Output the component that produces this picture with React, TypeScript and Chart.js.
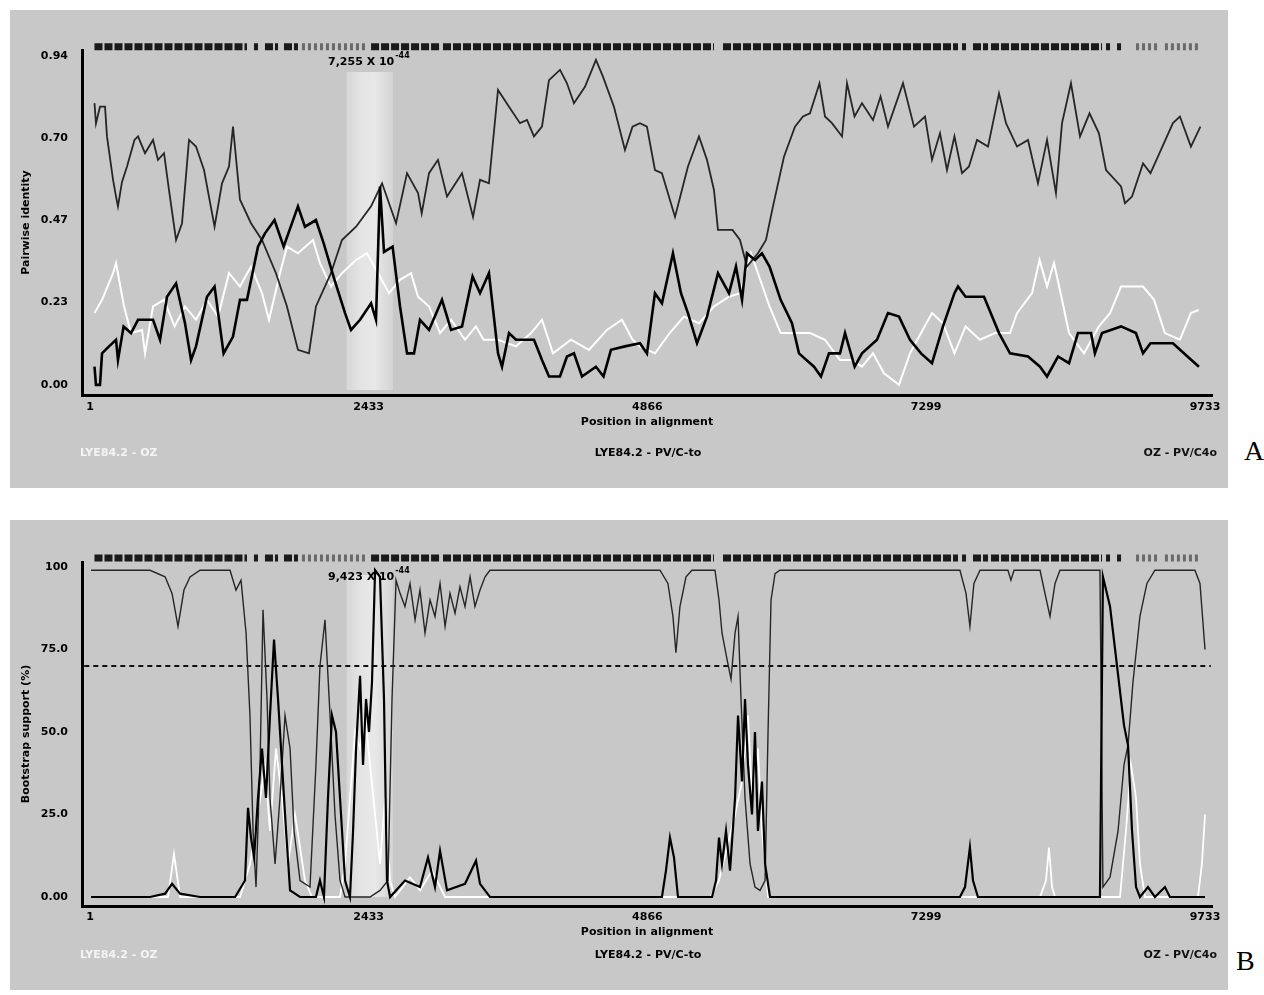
import React, { useEffect, useRef } from "react";
import { Chart, registerables } from "chart.js";

Chart.register(...registerables);

const FONT = "'DejaVu Sans', Verdana, sans-serif";

// ---------- shared axis data ----------
const xTicks = [1, 2433, 4866, 7299, 9733];
const xMin = -69;
const xMax = 9794;

const aYTicks = [0, 0.235, 0.47, 0.705, 0.94];
const aYTickLabels = ["0.00", "0.23", "0.47", "0.70", "0.94"];
const bYTicks = [0, 25, 50, 75, 100];
const bYTickLabels = ["0.00", "25.0", "50.0", "75.0", "100"];

// informative-site strip (alignment positions)
const sitesStart = [40, 1432, 1528, 1694, 1851, 2454, 3082, 5526, 7612, 7708, 7865, 8869, 8965, 9131, 9383];
const sitesEnd = [1371, 1467, 1642, 1816, 2419, 3056, 5447, 7577, 7647, 7839, 8834, 8904, 9000, 9322, 9680];
const sitesFaint = [0, 0, 0, 0, 1, 0, 0, 0, 0, 0, 0, 0, 0, 1, 1];

// highlighted breakpoint window
const bandStart = 2240;
const bandEnd = 2645;
const bootstrapThreshold = 70;

// ---------- Panel A: pairwise identity ----------
const aOzPos = [40,53,88,132,149,202,228,245,280,324,389,420,481,551,594,647,690,752,804,865,926,996,1088,1153,1214,1249,1310,1406,1502,1624,1720,1816,1912,1973,2104,2200,2323,2454,2550,2672,2768,2864,2896,2960,3038,3117,3248,3344,3405,3483,3562,3658,3754,3815,3876,3946,4007,4103,4164,4225,4321,4417,4478,4574,4670,4736,4801,4862,4932,4993,5107,5220,5316,5386,5447,5482,5609,5674,5735,5831,5901,5962,6058,6154,6224,6285,6368,6416,6477,6565,6608,6674,6739,6835,6901,6966,7097,7193,7289,7350,7420,7481,7546,7612,7673,7743,7839,7935,7996,8092,8188,8275,8354,8432,8485,8563,8642,8725,8807,8869,9000,9034,9096,9192,9257,9322,9453,9514,9610,9693];
const aOzVal = [0.805,0.747,0.795,0.795,0.71,0.586,0.538,0.51,0.58,0.624,0.70,0.71,0.662,0.70,0.643,0.662,0.557,0.414,0.462,0.70,0.681,0.614,0.452,0.576,0.624,0.738,0.529,0.462,0.414,0.319,0.224,0.10,0.09,0.224,0.319,0.414,0.452,0.51,0.576,0.462,0.605,0.548,0.49,0.605,0.643,0.538,0.605,0.48,0.586,0.576,0.843,0.795,0.748,0.757,0.71,0.738,0.871,0.90,0.862,0.805,0.852,0.929,0.881,0.795,0.671,0.738,0.748,0.738,0.614,0.605,0.48,0.624,0.71,0.643,0.557,0.443,0.443,0.414,0.338,0.376,0.414,0.51,0.652,0.738,0.767,0.776,0.862,0.767,0.748,0.71,0.862,0.767,0.805,0.757,0.824,0.738,0.862,0.738,0.767,0.643,0.719,0.614,0.71,0.605,0.624,0.70,0.681,0.833,0.748,0.681,0.70,0.576,0.70,0.548,0.748,0.862,0.71,0.776,0.719,0.614,0.567,0.519,0.538,0.633,0.605,0.652,0.748,0.767,0.681,0.738];

const aLyePvPos = [40,53,88,106,167,228,245,294,359,420,551,612,673,752,830,883,926,1022,1088,1167,1249,1310,1371,1467,1528,1611,1691,1816,1877,1973,2040,2135,2227,2279,2358,2454,2497,2532,2567,2642,2707,2768,2829,2881,2960,3073,3152,3248,3340,3405,3483,3562,3597,3658,3719,3876,3946,4007,4103,4164,4225,4295,4417,4483,4548,4670,4801,4862,4932,4993,5089,5159,5220,5299,5386,5482,5578,5639,5692,5735,5805,5866,5932,6029,6128,6189,6320,6381,6451,6547,6591,6675,6739,6870,6966,7062,7158,7254,7350,7446,7546,7577,7643,7804,7935,8031,8188,8293,8354,8450,8546,8624,8738,8772,8834,9000,9130,9192,9257,9453,9580,9680];
const aLyePvVal = [0.052,0.0,0.0,0.09,0.11,0.129,0.071,0.167,0.148,0.186,0.186,0.129,0.252,0.29,0.176,0.071,0.11,0.252,0.281,0.09,0.138,0.243,0.243,0.395,0.433,0.471,0.395,0.51,0.452,0.471,0.405,0.30,0.205,0.157,0.186,0.233,0.186,0.567,0.38,0.395,0.224,0.09,0.09,0.186,0.157,0.243,0.157,0.167,0.31,0.262,0.319,0.09,0.052,0.148,0.129,0.129,0.071,0.024,0.024,0.081,0.09,0.024,0.052,0.024,0.10,0.11,0.119,0.09,0.262,0.233,0.376,0.262,0.205,0.119,0.195,0.319,0.262,0.338,0.243,0.376,0.357,0.376,0.338,0.243,0.176,0.09,0.052,0.024,0.09,0.09,0.148,0.052,0.09,0.129,0.205,0.195,0.129,0.09,0.062,0.167,0.262,0.281,0.252,0.252,0.148,0.09,0.081,0.052,0.024,0.081,0.062,0.148,0.148,0.09,0.148,0.167,0.148,0.09,0.119,0.119,0.081,0.052];

const aLyeOzPos = [40,106,202,228,298,359,455,481,551,647,739,830,926,1022,1118,1214,1310,1406,1502,1563,1659,1720,1816,1947,2008,2104,2200,2323,2419,2515,2611,2707,2803,2864,2960,3056,3152,3274,3370,3436,3562,3719,3850,3946,4042,4199,4356,4513,4644,4736,4801,4932,5060,5185,5316,5447,5578,5674,5770,5831,5932,6029,6154,6285,6416,6547,6643,6739,6835,6931,7062,7158,7254,7350,7446,7546,7643,7769,7900,8031,8092,8223,8289,8354,8415,8485,8546,8677,8807,8904,9000,9192,9288,9383,9514,9610,9677];
const aLyeOzVal = [0.205,0.243,0.319,0.348,0.224,0.148,0.157,0.09,0.224,0.243,0.167,0.224,0.186,0.243,0.195,0.319,0.281,0.338,0.262,0.186,0.319,0.395,0.376,0.414,0.348,0.281,0.319,0.357,0.376,0.319,0.262,0.30,0.319,0.252,0.224,0.148,0.186,0.129,0.167,0.129,0.129,0.11,0.148,0.186,0.09,0.129,0.10,0.157,0.186,0.129,0.11,0.09,0.148,0.195,0.176,0.224,0.252,0.262,0.376,0.319,0.224,0.148,0.148,0.148,0.129,0.071,0.071,0.052,0.09,0.033,0.0,0.09,0.148,0.205,0.176,0.09,0.167,0.129,0.148,0.148,0.205,0.262,0.357,0.281,0.348,0.243,0.148,0.09,0.167,0.205,0.281,0.281,0.243,0.148,0.129,0.205,0.214];

// ---------- Panel B: bootstrap support ----------
const bOzPos = [10,525,656,717,769,821,874,961,1223,1275,1319,1363,1397,1424,1450,1485,1511,1546,1572,1616,1659,1703,1747,1782,1834,1921,1973,2008,2052,2096,2139,2183,2227,2445,2532,2602,2637,2672,2707,2750,2794,2838,2881,2925,2969,3012,3056,3100,3143,3187,3230,3274,3318,3361,3405,3449,3492,4976,5045,5089,5115,5150,5203,5255,5456,5491,5517,5561,5596,5631,5657,5683,5718,5762,5805,5849,5893,5919,5945,5980,6023,7594,7647,7681,7716,7769,8013,8039,8066,8293,8336,8380,8424,8467,8816,8842,8904,8974,9026,9061,9104,9165,9226,9296,9645,9689,9733];
const bOzVal = [99,99,97,92,82,93,97,99,99,93,96,80,55,20,3,40,87,60,30,10,30,55,45,20,5,3,40,70,84,55,25,5,0,0,2,5,60,96,92,88,95,84,93,80,90,85,95,82,92,86,94,88,97,88,93,97,99,99,95,85,74,88,97,99,99,90,80,72,66,80,85,60,30,10,3,2,5,50,90,98,99,99,92,82,95,99,99,96,99,99,92,85,95,99,99,3,6,20,40,46,65,85,95,99,99,95,75];

const bLyePvPos = [10,525,656,717,787,961,1267,1354,1380,1406,1433,1467,1502,1537,1572,1607,1642,1677,1712,1747,1834,1973,2008,2043,2078,2113,2148,2183,2227,2270,2297,2323,2358,2384,2410,2436,2462,2489,2532,2567,2593,2620,2750,2881,2951,3012,3056,3117,3274,3370,3405,3492,4993,5028,5063,5098,5133,5430,5465,5491,5517,5552,5587,5631,5657,5692,5718,5744,5779,5805,5831,5866,5893,5936,7594,7638,7681,7708,7751,8816,8842,8904,8965,9026,9061,9096,9131,9165,9235,9296,9383,9427,9733];
const bLyePvVal = [0,0,1,4,1,0,0,5,27,18,12,30,45,30,55,78,60,40,20,2,0,0,5,0,30,55,50,30,5,0,20,45,67,40,60,50,65,99,97,60,5,0,5,3,12,3,14,2,4,11,4,0,0,8,18,12,0,0,5,18,10,20,8,30,55,35,60,40,25,50,20,35,10,0,0,3,15,5,0,0,97,88,70,52,46,20,3,0,3,0,3,0,0];

const bLyeOzPos = [10,682,734,787,1311,1397,1467,1528,1572,1624,1677,1729,1790,1834,1877,1938,2183,2227,2270,2314,2358,2402,2445,2489,2532,2576,2620,2663,2794,2881,2986,3100,5414,5491,5561,5631,5692,5744,5779,5831,5866,5919,8293,8345,8371,8398,8424,8991,9043,9087,9131,9165,9209,9671,9706,9733];
const bLyeOzVal = [0,0,13,0,0,10,25,40,20,45,30,10,25,15,5,0,0,10,30,50,45,55,40,25,10,30,5,0,6,2,8,0,0,5,15,25,35,55,30,45,20,0,0,5,15,3,0,0,20,40,30,10,0,0,10,25];

// ---------- helpers ----------
const PANEL_W = 1218;

function pts(pos: number[], val: number[]) {
  const n = Math.min(pos.length, val.length);
  const out: { x: number; y: number }[] = [];
  for (let i = 0; i < n; i++) out.push({ x: pos[i], y: val[i] });
  return out;
}

function strip(yv: number, faint: number) {
  const d: any[] = [];
  sitesStart.forEach((s, i) => {
    if (sitesFaint[i] !== faint) return;
    d.push({ x: s, y: yv }, { x: sitesEnd[i], y: yv }, { x: sitesEnd[i], y: null });
  });
  return d;
}

function lineDs(data: any[], color: string, width: number, extra: any = {}) {
  return {
    data,
    borderColor: color,
    borderWidth: width,
    pointRadius: 0,
    tension: 0,
    fill: false,
    spanGaps: false,
    ...extra,
  };
}

type Spec = {
  height: number;
  padTop: number;
  padBottom: number;
  xHeight: number;
  xTickPad: number;
  yMin: number;
  yMax: number;
  yTicks: number[];
  yLabels: string[];
  yTitle: string;
  stripY: number;
  bandTop: number;
  bandBottom: number;
  series: any[];
  threshold?: number;
};

function buildConfig(p: Spec) {
  const bandPlugin = {
    id: "bandShade",
    beforeDatasetsDraw(chart: any) {
      const { ctx, scales } = chart;
      const x = scales.x;
      const y = scales.y;
      const l = x.getPixelForValue(bandStart);
      const r = x.getPixelForValue(bandEnd);
      const t = y.getPixelForValue(p.bandTop);
      const b = y.getPixelForValue(p.bandBottom);
      const g = ctx.createLinearGradient(l, 0, r, 0);
      g.addColorStop(0, "#d6d6d6");
      g.addColorStop(0.3, "#e4e4e4");
      g.addColorStop(0.6, "#e8e8e8");
      g.addColorStop(1, "#d4d4d4");
      ctx.save();
      ctx.fillStyle = g;
      ctx.fillRect(l, t, r - l, b - t);
      ctx.restore();
    },
  };

  const datasets: any[] = [...p.series];
  if (p.threshold !== undefined) {
    datasets.push(
      lineDs(
        [
          { x: xMin + 20, y: p.threshold },
          { x: xMax - 10, y: p.threshold },
        ],
        "#111",
        2,
        { borderDash: [5, 4] }
      )
    );
  }
  datasets.push(lineDs(strip(p.stripY, 0), "#1a1a1a", 7, { borderDash: [8, 2], clip: false, borderCapStyle: "butt" }));
  datasets.push(lineDs(strip(p.stripY, 1), "#6a6a6a", 7, { borderDash: [3, 3], clip: false, borderCapStyle: "butt" }));

  return {
    type: "line",
    data: { datasets },
    options: {
      animation: false,
      responsive: false,
      maintainAspectRatio: false,
      events: [],
      layout: { padding: { left: 10, right: 16, top: p.padTop, bottom: p.padBottom } },
      plugins: { legend: { display: false }, tooltip: { enabled: false } },
      scales: {
        x: {
          type: "linear",
          min: xMin,
          max: xMax,
          afterBuildTicks: (s: any) => {
            s.ticks = xTicks.map((v) => ({ value: v }));
          },
          afterFit: (s: any) => {
            s.height = p.xHeight;
          },
          ticks: {
            autoSkip: false,
            maxRotation: 0,
            padding: p.xTickPad,
            color: "#000",
            font: { family: FONT, size: 11, weight: "bold" },
            callback: (v: any) => String(v),
          },
          grid: { display: false, drawTicks: false },
          border: { display: true, color: "#000", width: 3 },
          title: {
            display: true,
            text: "Position in alignment",
            color: "#000",
            font: { family: FONT, size: 11, weight: "bold" },
            padding: { top: 0, bottom: 0 },
          },
        },
        y: {
          type: "linear",
          min: p.yMin,
          max: p.yMax,
          afterBuildTicks: (s: any) => {
            s.ticks = p.yTicks.map((v) => ({ value: v }));
          },
          afterFit: (s: any) => {
            s.width = 62;
          },
          ticks: {
            autoSkip: false,
            padding: 14,
            color: "#000",
            font: { family: FONT, size: 11, weight: "bold" },
            callback: (_v: any, i: number) => p.yLabels[i],
          },
          grid: { display: false, drawTicks: false },
          border: { display: true, color: "#000", width: 3 },
          title: {
            display: true,
            text: p.yTitle,
            color: "#000",
            font: { family: FONT, size: 11, weight: "bold" },
            padding: { top: 0, bottom: 0 },
          },
        },
      },
    },
    plugins: [bandPlugin],
  };
}

const specA: Spec = {
  height: 478,
  padTop: 40,
  padBottom: 59,
  xHeight: 34,
  xTickPad: 6,
  yMin: -0.029,
  yMax: 0.957,
  yTicks: aYTicks,
  yLabels: aYTickLabels,
  yTitle: "Pairwise identity",
  stripY: 0.966,
  bandTop: 0.894,
  bandBottom: -0.015,
  series: [
    lineDs(pts(aLyePvPos, aLyePvVal), "#000", 2.6),
    lineDs(pts(aOzPos, aOzVal), "#262626", 1.8),
    lineDs(pts(aLyeOzPos, aLyeOzVal), "#ffffff", 2),
  ],
};

const specB: Spec = {
  height: 470,
  padTop: 42,
  padBottom: 51,
  xHeight: 33,
  xTickPad: 5,
  yMin: -2.73,
  yMax: 101.5,
  yTicks: bYTicks,
  yLabels: bYTickLabels,
  yTitle: "Bootstrap support (%)",
  stripY: 102.7,
  bandTop: 97.6,
  bandBottom: 0,
  threshold: bootstrapThreshold,
  series: [
    lineDs(pts(bLyePvPos, bLyePvVal), "#000", 2.2),
    lineDs(pts(bOzPos, bOzVal), "#262626", 1.4),
    lineDs(pts(bLyeOzPos, bLyeOzVal), "#ffffff", 1.8),
  ],
};

function ChartCanvas({ spec }: { spec: Spec }) {
  const ref = useRef<HTMLCanvasElement>(null);
  useEffect(() => {
    const chart = new Chart(ref.current as HTMLCanvasElement, buildConfig(spec) as any);
    return () => chart.destroy();
  }, []);
  return (
    <canvas
      ref={ref}
      width={PANEL_W}
      height={spec.height}
      style={{ position: "absolute", left: 0, top: 0, width: PANEL_W, height: spec.height }}
    />
  );
}

const labelStyle: React.CSSProperties = {
  position: "absolute",
  fontFamily: FONT,
  fontWeight: "bold",
  fontSize: 11,
  lineHeight: "12px",
  whiteSpace: "nowrap",
};

function Panel({ top, spec, pvalue }: { top: number; spec: Spec; pvalue: string }) {
  return (
    <div
      style={{
        position: "absolute",
        left: 10,
        top,
        width: PANEL_W,
        height: spec.height,
        background: "#c8c8c8",
      }}
    >
      <ChartCanvas spec={spec} />
      <div style={{ ...labelStyle, left: 318, top: spec === specA ? 46 : 51, color: "#000" }}>
        {pvalue} X 10
        <span style={{ fontSize: 8, position: "relative", top: -7, marginLeft: 1 }}>-44</span>
      </div>
      <div style={{ ...labelStyle, left: 70, top: spec.height - 41, color: "#f4f4f4" }}>LYE84.2 - OZ</div>
      <div style={{ ...labelStyle, left: 538, width: 200, textAlign: "center", top: spec.height - 41, color: "#000" }}>
        LYE84.2 - PV/C-to
      </div>
      <div style={{ ...labelStyle, left: 1007, width: 200, textAlign: "right", top: spec.height - 41, color: "#111" }}>
        OZ - PV/C4o
      </div>
    </div>
  );
}

export default function App() {
  return (
    <div style={{ position: "absolute", left: 0, top: 0, width: 1264, height: 995, background: "#fff", overflow: "hidden" }}>
      <Panel top={10} spec={specA} pvalue="7,255" />
      <Panel top={520} spec={specB} pvalue="9,423" />
      <div style={{ position: "absolute", left: 1244, top: 437, fontFamily: "'Liberation Serif', 'DejaVu Serif', serif", fontSize: 28, lineHeight: "28px", color: "#000" }}>
        A
      </div>
      <div style={{ position: "absolute", left: 1236, top: 947, fontFamily: "'Liberation Serif', 'DejaVu Serif', serif", fontSize: 28, lineHeight: "28px", color: "#000" }}>
        B
      </div>
    </div>
  );
}
